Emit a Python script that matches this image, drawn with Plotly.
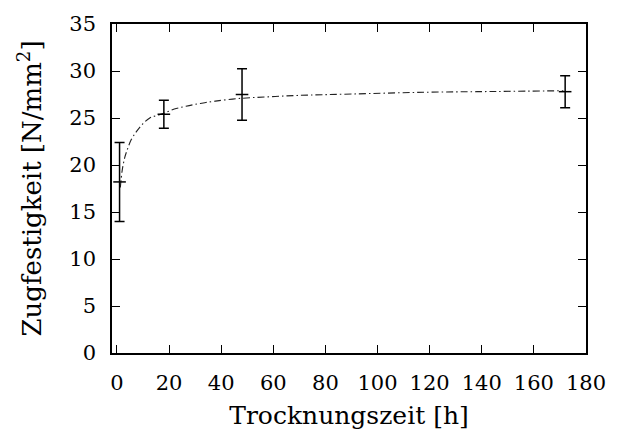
import plotly.graph_objects as go

# measured data (time in h, tensile strength in N/mm^2)
time_h = [1, 18, 48, 172]
strength = [18.2, 25.4, 27.5, 27.8]
strength_err = [4.2, 1.5, 2.75, 1.7]

# fitted curve
curve_x = [1.3, 2.0, 3.0, 3.8, 5.5, 7.6, 10, 12.6, 15, 18, 22, 26.5, 32, 37.8, 48, 58, 69.3, 90, 118.4, 145, 171.3]
curve_y = [17.6, 19.4, 20.8, 21.5, 22.7, 23.6, 24.4, 25.0, 25.25, 25.5, 25.95, 26.25, 26.55, 26.8, 27.1, 27.25, 27.4, 27.55, 27.74, 27.82, 27.9]

x_ticks = [0, 20, 40, 60, 80, 100, 120, 140, 160, 180]
y_ticks = [0, 5, 10, 15, 20, 25, 30, 35]

FONT = "'DejaVu Serif', serif"

fig = go.Figure()
fig.add_trace(go.Scatter(
    x=curve_x, y=curve_y, mode="lines", line_shape="spline",
    line=dict(color="#222", width=1.1, dash="7px,3px,1.5px,3px"),
    showlegend=False, hoverinfo="skip"))
fig.add_trace(go.Scatter(
    x=time_h, y=strength, mode="markers",
    marker=dict(symbol="line-ew", size=9, line=dict(color="black", width=1.5)),
    error_y=dict(type="data", array=strength_err, visible=True, color="black", thickness=1.5, width=5),
    showlegend=False))

axis_common = dict(
    showline=True, linecolor="black", linewidth=1.5, mirror="ticks",
    ticks="inside", ticklen=8, tickwidth=1, tickcolor="black",
    showgrid=False, zeroline=False,
    tickfont=dict(family=FONT, size=21, color="black"),
)

fig.update_layout(
    width=618, height=439,
    margin=dict(l=112, r=25, t=23, b=86),
    plot_bgcolor="white", paper_bgcolor="white",
    font=dict(family=FONT),
    xaxis=dict(range=[-1.9, 180], tickvals=x_ticks, ticklabelstandoff=10,
               title=dict(text="Trocknungszeit [h]", font=dict(family=FONT, size=25, color="black"), standoff=13),
               **axis_common),
    yaxis=dict(range=[0, 35], tickvals=y_ticks, ticklabelstandoff=10,
               title=dict(text="Zugfestigkeit [N/mm<sup>2</sup>]", font=dict(family=FONT, size=26, color="black"), standoff=20),
               **axis_common),
)

fig.write_html("out.html")
